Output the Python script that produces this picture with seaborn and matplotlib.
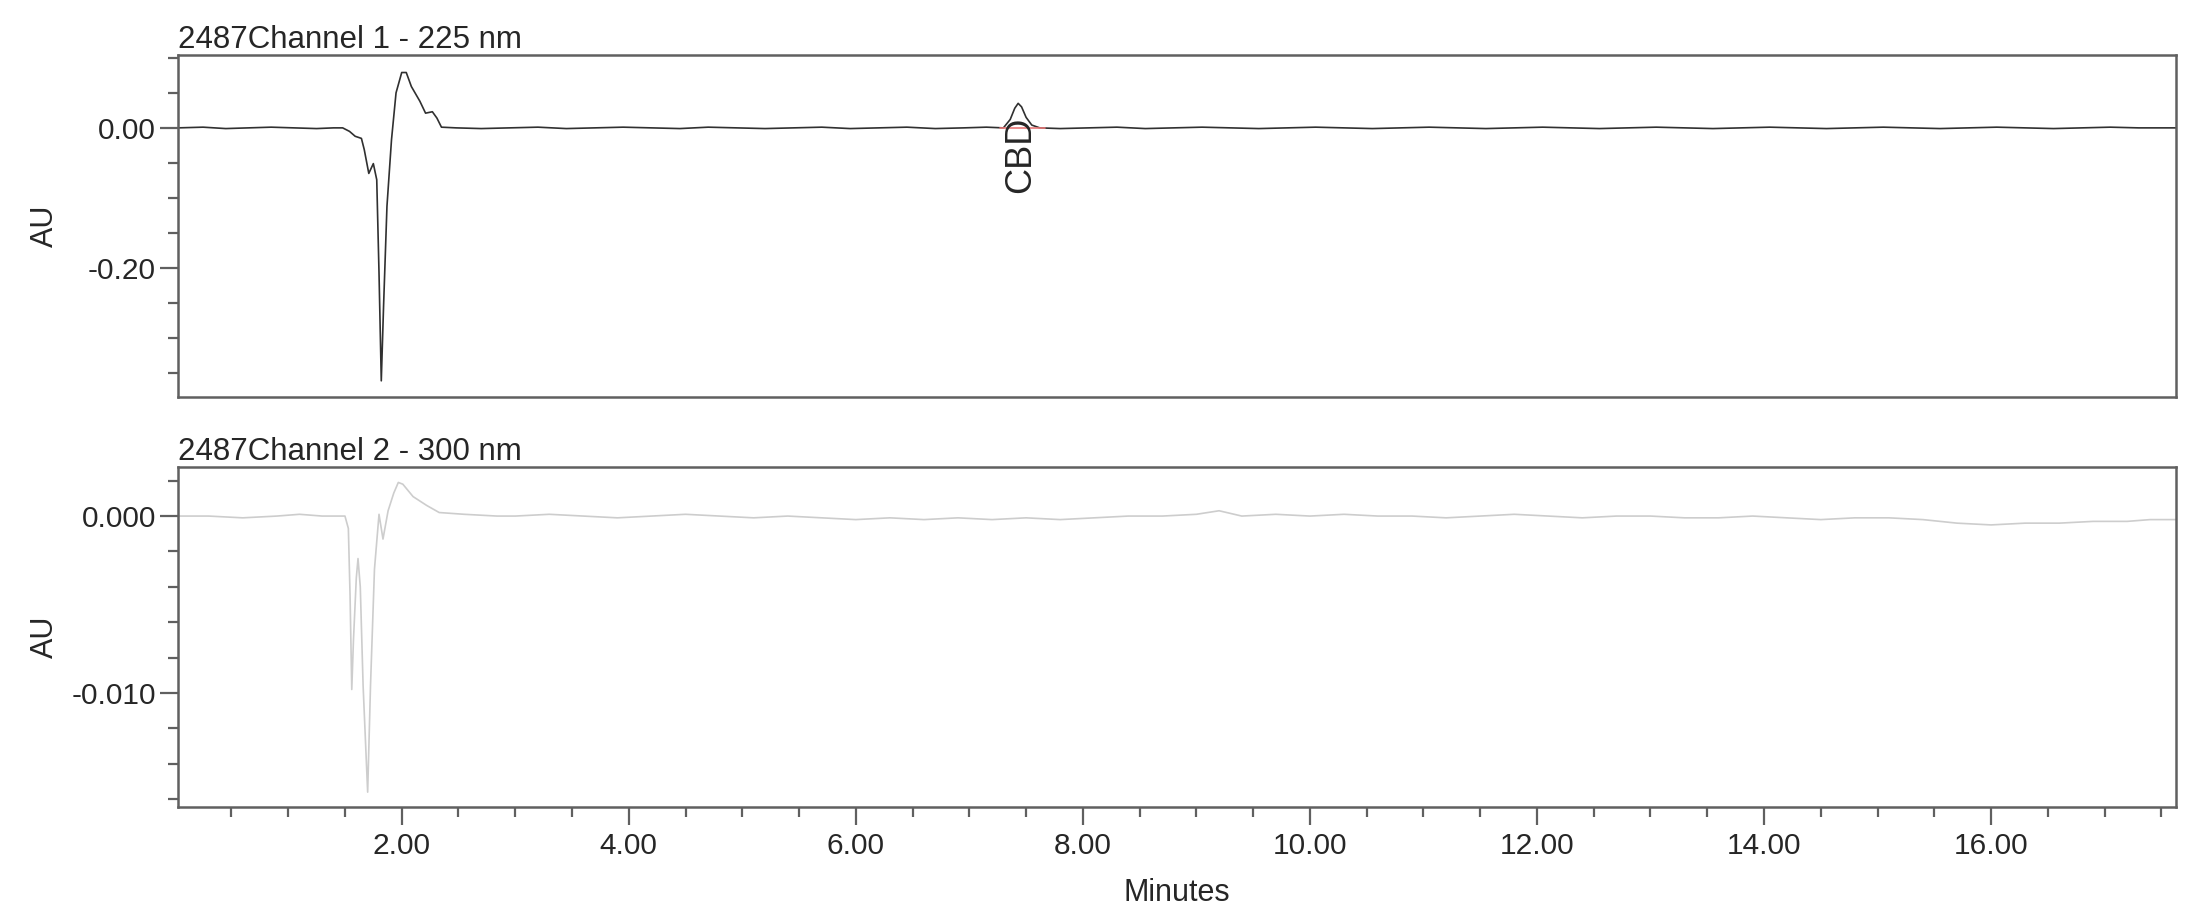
import matplotlib
matplotlib.use("Agg")
import matplotlib.pyplot as plt
from matplotlib.ticker import MultipleLocator, FormatStrFormatter
import seaborn as sns

# Channel 1 - 225 nm (minutes, AU)
ch1_time = [0.03, 0.25, 0.45, 0.65, 0.85, 1.05, 1.25, 1.40, 1.48, 1.54, 1.59, 1.645,
            1.67, 1.71, 1.75, 1.78, 1.80, 1.82, 1.84, 1.87, 1.91, 1.95, 2.00, 2.04,
            2.085, 2.16, 2.21, 2.27, 2.31, 2.35, 2.48, 2.70, 2.95, 3.20, 3.45, 3.70,
            3.95, 4.20, 4.45, 4.70, 4.95, 5.20, 5.45, 5.70, 5.95, 6.20, 6.45, 6.70,
            6.95, 7.15, 7.30, 7.36, 7.40, 7.43, 7.46, 7.50, 7.55, 7.62, 7.80, 8.05,
            8.30, 8.55, 8.80, 9.05, 9.30, 9.55, 9.80, 10.05, 10.30, 10.55, 10.80,
            11.05, 11.30, 11.55, 11.80, 12.05, 12.30, 12.55, 12.80, 13.05, 13.30,
            13.55, 13.80, 14.05, 14.30, 14.55, 14.80, 15.05, 15.30, 15.55, 15.80,
            16.05, 16.30, 16.55, 16.80, 17.05, 17.30, 17.63]
ch1_au = [0.000, 0.001, -0.001, 0.000, 0.001, 0.000, -0.001, 0.000, 0.000, -0.005, -0.012, -0.015,
          -0.031, -0.065, -0.051, -0.074, -0.207, -0.361, -0.255, -0.112, -0.017, 0.050, 0.079, 0.079,
          0.059, 0.038, 0.021, 0.023, 0.014, 0.001, 0.000, -0.001, 0.000, 0.001, -0.001, 0.000,
          0.001, 0.000, -0.001, 0.001, 0.000, -0.001, 0.000, 0.001, -0.001, 0.000, 0.001, -0.001,
          0.000, 0.001, 0.000, 0.012, 0.028, 0.035, 0.030, 0.015, 0.004, 0.000, -0.001, 0.000,
          0.001, -0.001, 0.000, 0.001, 0.000, -0.001, 0.000, 0.001, 0.000, -0.001, 0.000,
          0.001, 0.000, -0.001, 0.000, 0.001, 0.000, -0.001, 0.000, 0.001, 0.000,
          -0.001, 0.000, 0.001, 0.000, -0.001, 0.000, 0.001, 0.000, -0.001, 0.000,
          0.001, 0.000, -0.001, 0.000, 0.001, 0.000, 0.000]

# Channel 2 - 300 nm (minutes, AU)
ch2_time = [0.03, 0.30, 0.60, 0.90, 1.10, 1.30, 1.50, 1.53, 1.545, 1.56, 1.575, 1.60,
            1.615, 1.635, 1.66, 1.70, 1.725, 1.76, 1.80, 1.835, 1.88, 1.93, 1.97, 2.01,
            2.10, 2.22, 2.33, 2.55, 2.84, 3.00, 3.30, 3.60, 3.90, 4.20, 4.50, 4.80,
            5.10, 5.40, 5.70, 6.00, 6.30, 6.60, 6.90, 7.20, 7.50, 7.80, 8.10, 8.40,
            8.70, 9.00, 9.20, 9.40, 9.70, 10.00, 10.30, 10.60, 10.90, 11.20, 11.50,
            11.80, 12.10, 12.40, 12.70, 13.00, 13.30, 13.60, 13.90, 14.20, 14.50,
            14.80, 15.10, 15.40, 15.70, 16.00, 16.30, 16.60, 16.90, 17.20, 17.40, 17.63]
ch2_au = [0.0000, 0.0000, -0.0001, 0.0000, 0.0001, 0.0000, 0.0000, -0.0007, -0.0045, -0.0098, -0.0070, -0.0035,
          -0.0024, -0.0040, -0.0096, -0.0156, -0.0096, -0.0030, 0.0001, -0.0013, 0.0003, 0.0013, 0.0019, 0.0018,
          0.0011, 0.0006, 0.0002, 0.0001, 0.0000, 0.0000, 0.0001, 0.0000, -0.0001, 0.0000, 0.0001, 0.0000,
          -0.0001, 0.0000, -0.0001, -0.0002, -0.0001, -0.0002, -0.0001, -0.0002, -0.0001, -0.0002, -0.0001, 0.0000,
          0.0000, 0.0001, 0.0003, 0.0000, 0.0001, 0.0000, 0.0001, 0.0000, 0.0000, -0.0001, 0.0000,
          0.0001, 0.0000, -0.0001, 0.0000, 0.0000, -0.0001, -0.0001, 0.0000, -0.0001, -0.0002,
          -0.0001, -0.0001, -0.0002, -0.0004, -0.0005, -0.0004, -0.0004, -0.0003, -0.0003, -0.0002, -0.0002]

# CBD peak label and integration baseline
cbd_name = "CBD"
cbd_rt = 7.45
cbd_start = 7.27
cbd_end = 7.67
cbd_base = 0.0

x_range = (0.03, 17.63)
ch1_range = (-0.384, 0.104)
ch2_range = (-0.01644, 0.00277)

sns.set_theme(style="ticks")
plt.rcParams["font.family"] = ["Liberation Sans", "DejaVu Sans"]
plt.rcParams["axes.unicode_minus"] = False

frame = "#606060"

fig = plt.figure(figsize=(21.93, 9.09), dpi=100)
ax1 = fig.add_axes([0.0812, 0.5633, 0.9111, 0.3762])
ax2 = fig.add_axes([0.0812, 0.1122, 0.9111, 0.3740])


def style_axes(ax):
    for s in ax.spines.values():
        s.set_color(frame)
        s.set_linewidth(1.8)
    ax.tick_params(axis="both", which="major", direction="out", length=13, width=1.6,
                   color=frame, labelsize=21.5, pad=3, left=True, bottom=True)
    ax.tick_params(axis="both", which="minor", direction="out", length=7, width=1.6,
                   color=frame, left=True, bottom=True)
    ax.tick_params(axis="x", pad=5)
    ax.set_xlim(*x_range)
    ax.xaxis.set_major_locator(MultipleLocator(2))
    ax.xaxis.set_minor_locator(MultipleLocator(0.5))
    ax.xaxis.set_major_formatter(FormatStrFormatter("%.2f"))


# top panel
sns.lineplot(x=ch1_time, y=ch1_au, ax=ax1, color="#303030", linewidth=1.2,
             estimator=None, sort=False)
sns.lineplot(x=[cbd_start, cbd_end], y=[cbd_base, cbd_base], ax=ax1, color="#e87878",
             linewidth=1.2, estimator=None, sort=False)
style_axes(ax1)
ax1.set_ylim(*ch1_range)
ax1.yaxis.set_major_locator(MultipleLocator(0.2))
ax1.yaxis.set_minor_locator(MultipleLocator(0.05))
ax1.yaxis.set_major_formatter(FormatStrFormatter("%.2f"))
ax1.tick_params(axis="x", which="both", bottom=False, labelbottom=False)
ax1.set_title("2487Channel 1 - 225 nm", loc="left", fontsize=22.5, pad=4)
ax1.set_ylabel("AU", fontsize=22)
ax1.yaxis.set_label_coords(-0.059, 0.5)
ax1.set_xlabel("")
ax1.text(cbd_rt, 0.016, cbd_name, rotation=90, ha="center", va="top", fontsize=26)

# bottom panel
sns.lineplot(x=ch2_time, y=ch2_au, ax=ax2, color="#cdcdcd", linewidth=1.2,
             estimator=None, sort=False)
style_axes(ax2)
ax2.set_ylim(*ch2_range)
ax2.yaxis.set_major_locator(MultipleLocator(0.01))
ax2.yaxis.set_minor_locator(MultipleLocator(0.002))
ax2.yaxis.set_major_formatter(FormatStrFormatter("%.3f"))
ax2.set_title("2487Channel 2 - 300 nm", loc="left", fontsize=22.5, pad=4)
ax2.set_ylabel("AU", fontsize=22)
ax2.yaxis.set_label_coords(-0.059, 0.5)
ax2.set_xlabel("Minutes", fontsize=22)
ax2.xaxis.set_label_coords(0.5, -0.21)

fig.savefig("out.png", dpi=100)
